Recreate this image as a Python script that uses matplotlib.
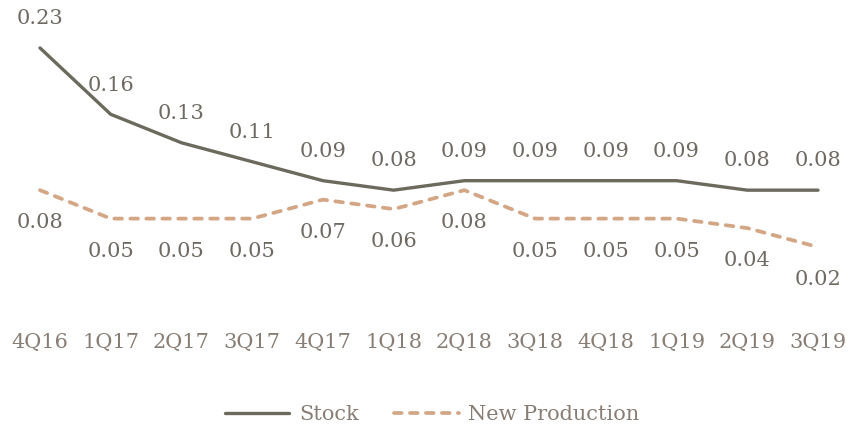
import matplotlib
matplotlib.use("Agg")
import matplotlib.pyplot as plt

categories = ["4Q16", "1Q17", "2Q17", "3Q17", "4Q17", "1Q18", "2Q18", "3Q18",
              "4Q18", "1Q19", "2Q19", "3Q19"]
stock = [0.23, 0.16, 0.13, 0.11, 0.09, 0.08, 0.09, 0.09, 0.09, 0.09, 0.08, 0.08]
new_production = [0.08, 0.05, 0.05, 0.05, 0.07, 0.06, 0.08, 0.05, 0.05, 0.05, 0.04, 0.02]

W, H = 849, 426
plt.rcParams['font.family'] = ['DejaVu Serif']
plt.rcParams['lines.scale_dashes'] = False
fig = plt.figure(figsize=(W / 100, H / 100), dpi=100)

# axes: x from pixel 0..849, y from pixel 0 (top) to 266 (zero line)
ax = fig.add_axes([0, (H - 266) / H, 1, 266 / H])
pxu = (818 - 40) / 11
ax.set_xlim(-40 / pxu, 11 + (W - 818) / pxu)
ax.set_ylim(0, 266 / 948)

x = list(range(len(categories)))
stock_color = "#6b6a5d"
np_color = "#d3a685"
fs = 15
ax.plot(x, stock, color=stock_color, lw=2.4, solid_capstyle="round", label="Stock")
ax.plot(x, new_production, color=np_color, lw=2.7, dashes=(5.5, 6.0),
        dash_capstyle="round", label="New Production")

lab_color = "#6e6962"
for xi, v in zip(x, stock):
    ax.annotate(f"{v:.2f}", (xi, v), xytext=(0, 21), textcoords="offset points",
                ha="center", va="center", fontsize=fs, color=lab_color)
for xi, v in zip(x, new_production):
    ax.annotate(f"{v:.2f}", (xi, v), xytext=(0, -23.5), textcoords="offset points",
                ha="center", va="center", fontsize=fs, color=lab_color)

ax.set_xticks(x)
ax.set_xticklabels(categories, fontsize=fs, color="#887d74")
ax.tick_params(axis="x", length=0, pad=48.5)
ax.set_yticks([])
for s in ax.spines.values():
    s.set_visible(False)
ax.patch.set_alpha(0)

fig.legend(loc="center", bbox_to_anchor=(432 / W, 1 - 415 / H), ncol=2, frameon=False,
           fontsize=fs, handlelength=3.1, handletextpad=0.45, columnspacing=1.7,
           labelcolor="#887d74")

fig.savefig("out.png", dpi=100)
